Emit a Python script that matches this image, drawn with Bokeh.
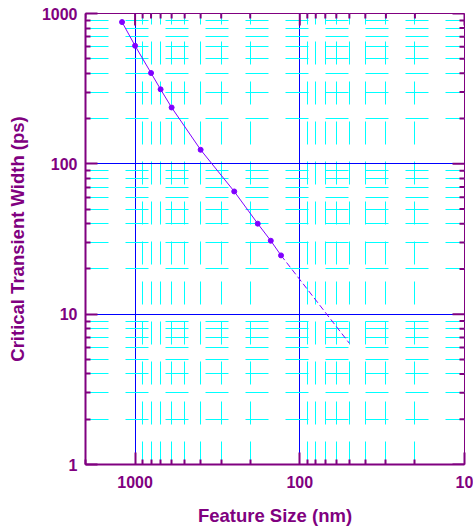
import math
from bokeh.plotting import figure
from bokeh.models import FixedTicker, Range1d, NumeralTickFormatter
from bokeh.embed import file_html
from bokeh.resources import INLINE

# data
feature_nm = [1200, 1000, 800, 700, 600, 400, 250, 180, 150, 130]
width_ps = [877, 610, 402, 313, 237, 124, 65.5, 40, 30.8, 24.6]
extrap_nm = [130, 50]
extrap_ps = [24.6, 6.4]

x_major = [10, 100, 1000]
y_major = [1, 10, 100, 1000]
mantissas = [2, 3, 4, 5, 6, 7, 8, 9]
x_minor = [m * d for d in [10, 100, 1000] for m in mantissas if m * d <= 2000]
y_minor = [m * d for d in [1, 10, 100] for m in mantissas]

X_START, X_END = 2000, 10
Y_START, Y_END = 1, 1000

PURPLE = "#800080"
LINE = "#8000ff"
FONT = "Liberation Sans"

p = figure(width=473, height=529, x_axis_type="log", y_axis_type="log",
           x_range=Range1d(X_START, X_END), y_range=Range1d(Y_START, Y_END),
           output_backend="svg", toolbar_location=None,
           min_border_left=85, min_border_right=9, min_border_top=13, min_border_bottom=65,
           x_axis_label="Feature Size (nm)", y_axis_label="Critical Transient Width (ps)")

p.outline_line_color = PURPLE
p.outline_line_width = 1

xt = FixedTicker(ticks=x_major, minor_ticks=x_minor)
yt = FixedTicker(ticks=y_major, minor_ticks=y_minor)
p.xaxis.ticker = xt
p.yaxis.ticker = yt
p.xgrid.ticker = xt
p.ygrid.ticker = yt

for g in (p.xgrid, p.ygrid):
    g.grid_line_color = "#0000ff"
    g.grid_line_width = 1
    g.minor_grid_line_color = "#00ffff"
    g.minor_grid_line_width = 1
    g.minor_grid_line_dash = "23 17"
p.ygrid.minor_grid_line_dash_offset = 4

for ax in list(p.xaxis) + list(p.yaxis):
    ax.axis_line_color = PURPLE
    ax.axis_line_width = 2
    ax.major_tick_line_color = PURPLE
    ax.minor_tick_line_color = PURPLE
    ax.major_tick_line_width = 2
    ax.minor_tick_line_width = 2
    ax.major_tick_in = 12
    ax.major_tick_out = 0
    ax.minor_tick_in = 5
    ax.minor_tick_out = 0
    ax.formatter = NumeralTickFormatter(format="0")
    ax.major_label_text_font = FONT
    ax.major_label_text_font_style = "bold"
    ax.major_label_text_font_size = "16px"
    ax.major_label_text_color = PURPLE
    ax.axis_label_text_font = FONT
    ax.axis_label_text_font_style = "bold"
    ax.axis_label_text_font_size = "18.5px"
    ax.axis_label_text_color = PURPLE

p.xaxis.major_label_standoff = 11
p.xaxis.axis_label_standoff = 14
p.yaxis.major_label_standoff = 8
p.yaxis.axis_label_standoff = 11

# inward ticks on the top and right edges
p.ray(x=x_minor, y=[Y_END] * len(x_minor), length=5, length_units="screen",
      angle=-math.pi / 2, line_color=PURPLE, line_width=2)
p.ray(x=x_major, y=[Y_END] * len(x_major), length=12, length_units="screen",
      angle=-math.pi / 2, line_color=PURPLE, line_width=2)
p.ray(x=[X_END] * len(y_minor), y=y_minor, length=5, length_units="screen",
      angle=math.pi, line_color=PURPLE, line_width=2)
p.ray(x=[X_END] * len(y_major), y=y_major, length=12, length_units="screen",
      angle=math.pi, line_color=PURPLE, line_width=2)

p.line(feature_nm, width_ps, line_color=LINE, line_width=1)
p.line(extrap_nm, extrap_ps, line_color=LINE, line_width=1, line_dash="6 3")
p.scatter(feature_nm, width_ps, size=5, fill_color=LINE, line_color=LINE)

open("out.html", "w").write(file_html(p, INLINE))
